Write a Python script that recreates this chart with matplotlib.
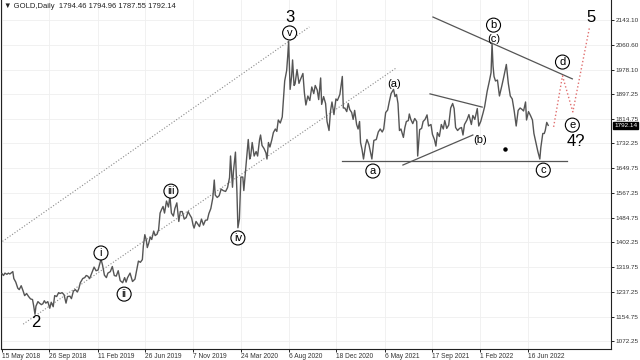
import numpy as np
import matplotlib
matplotlib.use("Agg")
import matplotlib.pyplot as plt
import matplotlib.transforms as mtransforms

plt.rcParams["font.family"] = ["Liberation Sans", "DejaVu Sans"]

# --- data (daily gold, approx. values) ---
START = "2018-05-15"

price_dates = [
    "2018-05-15", "2018-05-18", "2018-05-23", "2018-05-29", "2018-06-01", "2018-06-06", "2018-06-11", "2018-06-14",
    "2018-06-18", "2018-06-22", "2018-06-28", "2018-07-03", "2018-07-09", "2018-07-13", "2018-07-18", "2018-07-24",
    "2018-07-30", "2018-08-03", "2018-08-09", "2018-08-13", "2018-08-16", "2018-08-20", "2018-08-24", "2018-08-29",
    "2018-09-04", "2018-09-07", "2018-09-12", "2018-09-17", "2018-09-21", "2018-09-27", "2018-10-02", "2018-10-08",
    "2018-10-11", "2018-10-17", "2018-10-23", "2018-10-26", "2018-11-01", "2018-11-07", "2018-11-13", "2018-11-16",
    "2018-11-23", "2018-11-28", "2018-12-04", "2018-12-10", "2018-12-14", "2018-12-19", "2018-12-24", "2018-12-31",
    "2019-01-04", "2019-01-09", "2019-01-14", "2019-01-18", "2019-01-25", "2019-01-31", "2019-02-06", "2019-02-12",
    "2019-02-20", "2019-02-25", "2019-03-01", "2019-03-07", "2019-03-12", "2019-03-19", "2019-03-25", "2019-03-29",
    "2019-04-04", "2019-04-10", "2019-04-16", "2019-04-23", "2019-04-29", "2019-05-02", "2019-05-07", "2019-05-14",
    "2019-05-21", "2019-05-28", "2019-05-31", "2019-06-06", "2019-06-12", "2019-06-18", "2019-06-20", "2019-06-25",
    "2019-06-28", "2019-07-02", "2019-07-05", "2019-07-10", "2019-07-15", "2019-07-19", "2019-07-24", "2019-07-30",
    "2019-08-02", "2019-08-07", "2019-08-12", "2019-08-15", "2019-08-20", "2019-08-26", "2019-08-30", "2019-09-04",
    "2019-09-09", "2019-09-13", "2019-09-18", "2019-09-24", "2019-09-30", "2019-10-03", "2019-10-09", "2019-10-15",
    "2019-10-21", "2019-10-25", "2019-10-30", "2019-11-05", "2019-11-08", "2019-11-12", "2019-11-18", "2019-11-22",
    "2019-11-27", "2019-12-03", "2019-12-09", "2019-12-13", "2019-12-19", "2019-12-24", "2019-12-30",
    "2020-01-03", "2020-01-08", "2020-01-10", "2020-01-16", "2020-01-22", "2020-01-28", "2020-02-03", "2020-02-10",
    "2020-02-14", "2020-02-20", "2020-02-24", "2020-02-28", "2020-03-03", "2020-03-09", "2020-03-12", "2020-03-16",
    "2020-03-19", "2020-03-24", "2020-03-30", "2020-04-01", "2020-04-07", "2020-04-14", "2020-04-17", "2020-04-21",
    "2020-04-24", "2020-04-30", "2020-05-06", "2020-05-11", "2020-05-15", "2020-05-19", "2020-05-22", "2020-05-28",
    "2020-06-03", "2020-06-05", "2020-06-10", "2020-06-15", "2020-06-19", "2020-06-24", "2020-06-30", "2020-07-03",
    "2020-07-08", "2020-07-14", "2020-07-20", "2020-07-22", "2020-07-27", "2020-07-31", "2020-08-04", "2020-08-06",
    "2020-08-11", "2020-08-14", "2020-08-18", "2020-08-21", "2020-08-25", "2020-08-31", "2020-09-04", "2020-09-09",
    "2020-09-16", "2020-09-21", "2020-09-24", "2020-09-30", "2020-10-06", "2020-10-12", "2020-10-16", "2020-10-21",
    "2020-10-27", "2020-10-30", "2020-11-05", "2020-11-09", "2020-11-13", "2020-11-19", "2020-11-24", "2020-11-30",
    "2020-12-03", "2020-12-08", "2020-12-14", "2020-12-18", "2020-12-23", "2020-12-30",
    "2021-01-06", "2021-01-08", "2021-01-13", "2021-01-19", "2021-01-22", "2021-01-27", "2021-02-02", "2021-02-05",
    "2021-02-10", "2021-02-16", "2021-02-19", "2021-02-24", "2021-02-26", "2021-03-03", "2021-03-08", "2021-03-12",
    "2021-03-17", "2021-03-23", "2021-03-31", "2021-04-06", "2021-04-13", "2021-04-19", "2021-04-23", "2021-04-29",
    "2021-05-04", "2021-05-10", "2021-05-14", "2021-05-19", "2021-05-25", "2021-06-01", "2021-06-04", "2021-06-09",
    "2021-06-14", "2021-06-17", "2021-06-22", "2021-06-29", "2021-07-02", "2021-07-07", "2021-07-13", "2021-07-15",
    "2021-07-20", "2021-07-26", "2021-07-30", "2021-08-05", "2021-08-09", "2021-08-13", "2021-08-19", "2021-08-24",
    "2021-08-30", "2021-09-03", "2021-09-08", "2021-09-15", "2021-09-20", "2021-09-24", "2021-09-29", "2021-10-04",
    "2021-10-08", "2021-10-14", "2021-10-20", "2021-10-25", "2021-10-29", "2021-11-04", "2021-11-10", "2021-11-16",
    "2021-11-19", "2021-11-24", "2021-11-30", "2021-12-06", "2021-12-10", "2021-12-15", "2021-12-20", "2021-12-27",
    "2021-12-31",
    "2022-01-04", "2022-01-07", "2022-01-12", "2022-01-18", "2022-01-25", "2022-01-28", "2022-02-03", "2022-02-10",
    "2022-02-15", "2022-02-22", "2022-02-24", "2022-03-01", "2022-03-04", "2022-03-08", "2022-03-10", "2022-03-14",
    "2022-03-17", "2022-03-23", "2022-03-29", "2022-04-05", "2022-04-11", "2022-04-18", "2022-04-22", "2022-04-28",
    "2022-05-04", "2022-05-10", "2022-05-16", "2022-05-20", "2022-05-26", "2022-06-01", "2022-06-06", "2022-06-10",
    "2022-06-14", "2022-06-20", "2022-06-24", "2022-06-30", "2022-07-05", "2022-07-11", "2022-07-15", "2022-07-21",
    "2022-07-25", "2022-07-29", "2022-08-03", "2022-08-05", "2022-08-10", "2022-08-15",
]

price_values = [
    1298, 1292, 1300, 1296, 1300, 1297, 1301, 1305,
    1282, 1270, 1250, 1245, 1258, 1240, 1225, 1232,
    1222, 1214, 1212, 1194, 1163, 1190, 1205, 1200,
    1195, 1198, 1208, 1200, 1205, 1183, 1203, 1188,
    1225, 1222, 1235, 1232, 1235, 1228, 1200, 1222,
    1223, 1215, 1240, 1245, 1237, 1248, 1268, 1282,
    1285, 1292, 1290, 1282, 1303, 1320, 1308, 1310,
    1346, 1328, 1293, 1285, 1300, 1305, 1322, 1292,
    1290, 1308, 1275, 1268, 1285, 1270, 1285, 1300,
    1272, 1280, 1305, 1340, 1336, 1345, 1390, 1428,
    1410, 1385, 1400, 1420, 1412, 1440, 1425, 1430,
    1445, 1500, 1512, 1522, 1500, 1540, 1520, 1556,
    1500, 1490, 1515, 1534, 1472, 1505, 1505, 1480,
    1485, 1505, 1495, 1484, 1460, 1450, 1472, 1462,
    1455, 1480, 1460, 1476, 1477, 1498, 1515,
    1550, 1610, 1560, 1552, 1558, 1580, 1575, 1572,
    1585, 1618, 1690, 1586, 1640, 1703, 1570, 1451,
    1480, 1620, 1620, 1575, 1650, 1745, 1680, 1690,
    1735, 1690, 1705, 1690, 1745, 1760, 1725, 1715,
    1700, 1680, 1735, 1720, 1745, 1768, 1780, 1772,
    1810, 1800, 1820, 1870, 1940, 1975, 2020, 2072,
    1912, 1955, 2010, 1925, 1930, 1978, 1932, 1945,
    1965, 1900, 1860, 1890, 1875, 1920, 1898, 1925,
    1910, 1878, 1950, 1862, 1888, 1865, 1805, 1775,
    1840, 1870, 1828, 1880, 1875, 1895,
    1955, 1850, 1850, 1838, 1865, 1845, 1835, 1812,
    1842, 1795, 1780, 1805, 1735, 1712, 1680, 1725,
    1745, 1728, 1680, 1742, 1745, 1770, 1780, 1770,
    1780, 1835, 1843, 1868, 1898, 1912, 1888, 1895,
    1865, 1775, 1780, 1752, 1785, 1805, 1808, 1830,
    1812, 1798, 1815, 1805, 1690, 1778, 1782, 1805,
    1812, 1827, 1790, 1795, 1762, 1745, 1723, 1768,
    1755, 1795, 1780, 1808, 1782, 1793, 1850, 1865,
    1848, 1785, 1775, 1782, 1785, 1760, 1795, 1810,
    1828,
    1815, 1795, 1825, 1812, 1848, 1790, 1805, 1835,
    1855, 1905, 1920, 1943, 1968, 2065, 1990, 1955,
    1940, 1943, 1890, 1925, 1955, 1995, 1932, 1890,
    1880, 1840, 1790, 1842, 1850, 1845, 1840, 1870,
    1810, 1838, 1825, 1810, 1765, 1735, 1705, 1680,
    1718, 1765, 1765, 1775, 1802, 1792.14,
]

tick_dates = ["2018-05-15", "2018-09-26", "2019-02-11", "2019-06-26", "2019-11-07", "2020-03-24",
              "2020-08-06", "2020-12-18", "2021-05-06", "2021-09-17", "2022-02-01", "2022-06-16"]
tick_labels = ["15 May 2018", "26 Sep 2018", "11 Feb 2019", "26 Jun 2019", "7 Nov 2019", "24 Mar 2020",
               "6 Aug 2020", "18 Dec 2020", "6 May 2021", "17 Sep 2021", "1 Feb 2022", "16 Jun 2022"]
price_ticks = [1072.25, 1154.75, 1237.25, 1319.75, 1402.25, 1484.75, 1567.25,
               1649.75, 1732.25, 1814.75, 1897.25, 1978.10, 2060.60, 2143.10]
last_price = 1792.14

# wave-count trend lines (date, price) pairs
channel_upper = (["2018-05-09", "2020-10-05"], [1400, 2120])
channel_lower = (["2018-07-13", "2021-06-08"], [1130, 1983])
support_line = (["2021-01-06", "2022-10-07"], [1673, 1673])
top_line = (["2021-09-21", "2022-10-21"], [2153, 1947])
tri_upper = (["2021-09-13", "2022-02-08"], [1897, 1853])
tri_lower = (["2021-06-28", "2022-01-12"], [1660, 1760])
projection = (["2022-08-30", "2022-09-23", "2022-10-24", "2022-12-09"], [1787, 1957, 1837, 2120])

big_labels = [("2", "2018-08-20", 1134), ("3", "2020-08-10", 2150),
              ("5", "2022-12-14", 2153), ("4?", "2022-11-02", 1737)]
circled_labels = [("i", "2019-02-20", 1367), ("ii", "2019-04-26", 1230), ("iii", "2019-09-06", 1573),
                  ("iv", "2020-03-16", 1417), ("v", "2020-08-10", 2100), ("a", "2021-04-02", 1640),
                  ("b", "2022-03-11", 2126), ("c", "2022-08-01", 1643), ("d", "2022-09-23", 2003),
                  ("e", "2022-10-21", 1793)]
paren_labels = [("(a)", "2021-06-02", 1930), ("(b)", "2022-02-02", 1743), ("(c)", "2022-03-11", 2080)]


def bars(dates):
    # trading-day index, like the MT4 bar axis
    return np.busday_count(START, np.array(dates, dtype="datetime64[D]"))


fig = plt.figure(figsize=(6.4, 3.6), dpi=100)
ax = fig.add_axes([1 / 640, 11 / 360, 610 / 640, 349 / 360])

for p in price_ticks:
    ax.axhline(p, color="#efefef", lw=0.6, zorder=0)
for d in tick_dates:
    ax.axvline(bars([d])[0], color="#efefef", lw=0.6, zorder=0)

ax.plot(bars(price_dates), price_values, color="#555555", lw=1.0, zorder=3)

for d, p in [channel_upper, channel_lower]:
    ax.plot(bars(d), p, color="#8a8a8a", lw=0.8, ls=":", zorder=2)
for d, p in [support_line, top_line, tri_upper, tri_lower]:
    ax.plot(bars(d), p, color="#555555", lw=0.9, zorder=2)
ax.plot(bars(projection[0]), projection[1], color="#e07070", lw=1.0, ls=":", zorder=2)
ax.plot(bars(["2022-04-13"]), [1713], "o", color="black", ms=2.2, zorder=4)

for t, d, p in big_labels:
    ax.text(bars([d])[0], p, t, fontsize=12, ha="center", va="center", color="black", zorder=5)
for t, d, p in circled_labels:
    ax.text(bars([d])[0], p, t, fontsize=8, ha="center", va="center", color="black", zorder=5,
            bbox=dict(boxstyle="circle,pad=0.18", fc="white", ec="black", lw=0.8))
for t, d, p in paren_labels:
    ax.text(bars([d])[0], p, t, fontsize=8, ha="center", va="center", color="black", zorder=5)

ax.set_xlim(-2, 1236.5)
ax.set_ylim(1047.2, 2209.7)

ax.set_xticks(bars(tick_dates))
ax.set_xticklabels(tick_labels, ha="left", fontsize=4.8, color="#333333")
ax.tick_params(axis="x", length=2, width=0.6, pad=0.8)
ax.yaxis.tick_right()
ax.set_yticks(price_ticks)
ax.set_yticklabels(["%.2f" % v for v in price_ticks], fontsize=4.6, color="#333333")
ax.tick_params(axis="y", length=2.5, width=0.6, pad=1)

for side in ["left", "bottom", "right"]:
    ax.spines[side].set_color("#222222")
    ax.spines[side].set_linewidth(0.8)
ax.spines["top"].set_visible(False)

trans = mtransforms.blended_transform_factory(ax.transAxes, ax.transData)
ax.text(1.005, last_price, "%.2f" % last_price, transform=trans, fontsize=4.6, color="white",
        ha="left", va="center", zorder=6, clip_on=False,
        bbox=dict(boxstyle="square,pad=0.12", fc="black", ec="black"))

fig.text(4 / 640, 1 - 6 / 360, "\u25bc GOLD,Daily  1794.46 1794.96 1787.55 1792.14",
         fontsize=5.5, color="#222222", va="center", ha="left")

fig.savefig("out.png", dpi=100)
